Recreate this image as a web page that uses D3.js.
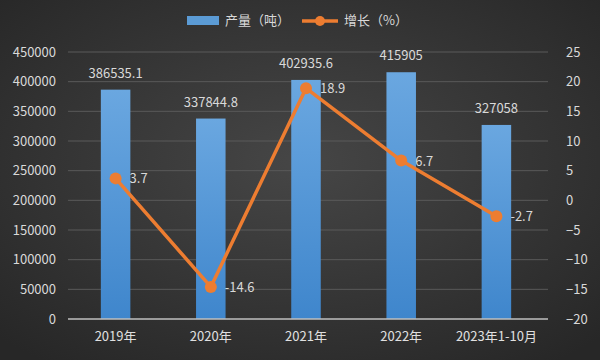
<!DOCTYPE html>
<html><head><meta charset="utf-8">
<script src="https://cdn.jsdelivr.net/npm/d3@7"></script>
<style>html,body{margin:0;padding:0;background:#fff}svg{display:block}</style>
</head><body><svg id="c" width="600" height="360"></svg>
<script>
const categories = ["2019年","2020年","2021年","2022年","2023年1-10月"];
const production = [386535.1, 337844.8, 402935.6, 415905, 327058];
const growth = [3.7, -14.6, 18.9, 6.7, -2.7];
const prodLabels = ["386535.1","337844.8","402935.6","415905","327058"];
const leftTicks = [0,50000,100000,150000,200000,250000,300000,350000,400000,450000];
const rightTicks = [-20,-15,-10,-5,0,5,10,15,20,25];

const svg = d3.select("#c");
const W=600,H=360;
const defs = svg.append("defs");
const bg = defs.append("radialGradient").attr("id","bg").attr("cx","50%").attr("cy","45%").attr("r","70%");
bg.append("stop").attr("offset","0%").attr("stop-color","#464646");
bg.append("stop").attr("offset","100%").attr("stop-color","#272727");
const bar = defs.append("linearGradient").attr("id","bar").attr("x1",0).attr("y1",0).attr("x2",0).attr("y2",1);
bar.append("stop").attr("offset","0%").attr("stop-color","#6aa7e0");
bar.append("stop").attr("offset","100%").attr("stop-color","#3f86cc");

svg.append("rect").attr("width",W).attr("height",H).attr("fill","url(#bg)");

const font = "'Microsoft YaHei','Noto Sans CJK SC','DejaVu Sans',sans-serif";
const x0=68,x1=544,yTop=52,yBot=319;
const x = d3.scaleBand().domain(categories).range([x0,x1]).paddingInner(0.69).paddingOuter(0.345);
const yL = d3.scaleLinear().domain([0,450000]).range([yBot,yTop]);
const yR = d3.scaleLinear().domain([-20,25]).range([yBot,yTop]);

// grid
svg.append("g").selectAll("line").data(leftTicks.slice(1)).join("line")
  .attr("x1",x0).attr("x2",x1+4).attr("y1",d=>yL(d)).attr("y2",d=>yL(d))
  .attr("stroke","#5a5a5a").attr("stroke-width",1);

// left axis
const la = svg.append("g").attr("transform",`translate(${x0},0)`)
  .call(d3.axisLeft(yL).tickValues(leftTicks).tickSize(0).tickPadding(12).tickFormat(d3.format("d")));
la.select(".domain").remove();
la.selectAll("text").attr("fill","#d9d9d9").style("font-family",font).style("font-size","13px");

// right axis
const ra = svg.append("g").attr("transform",`translate(${x1+10},0)`)
  .call(d3.axisRight(yR).tickValues(rightTicks).tickSize(0).tickPadding(12).tickFormat(d3.format("d")));
ra.select(".domain").remove();
ra.selectAll("text").attr("fill","#d9d9d9").style("font-family",font).style("font-size","13px");

// bars
svg.append("g").selectAll("rect").data(production).join("rect")
  .attr("x",(d,i)=>x(categories[i])).attr("width",x.bandwidth())
  .attr("y",d=>yL(d)).attr("height",d=>yBot-yL(d)).attr("fill","url(#bar)");

// baseline
svg.append("line").attr("x1",x0).attr("x2",x1+4).attr("y1",yBot).attr("y2",yBot).attr("stroke","#bfbfbf").attr("stroke-width",1.5);

// x labels
svg.append("g").selectAll("text").data(categories).join("text")
  .attr("x",d=>x(d)+x.bandwidth()/2).attr("y",yBot+22).attr("text-anchor","middle")
  .attr("fill","#e0e0e0").style("font-family",font).style("font-size","13px").text(d=>d);

// bar labels
svg.append("g").selectAll("text").data(production).join("text")
  .attr("x",(d,i)=>x(categories[i])+x.bandwidth()/2).attr("y",d=>yL(d)-12).attr("text-anchor","middle")
  .attr("fill","#d9d9d9").style("font-family",font).style("font-size","13px").text((d,i)=>prodLabels[i]);

// line
const cx = (i)=>x(categories[i])+x.bandwidth()/2;
svg.append("path").datum(growth).attr("fill","none").attr("stroke","#ed7d31").attr("stroke-width",3.5)
  .attr("stroke-linejoin","round")
  .attr("d",d3.line().x((d,i)=>cx(i)).y(d=>yR(d)));
svg.append("g").selectAll("circle").data(growth).join("circle")
  .attr("cx",(d,i)=>cx(i)).attr("cy",d=>yR(d)).attr("r",6).attr("fill","#ed7d31");
svg.append("g").selectAll("text").data(growth).join("text")
  .attr("x",(d,i)=>cx(i)+14).attr("y",d=>yR(d)+5)
  .attr("fill","#d9d9d9").style("font-family",font).style("font-size","13px").text(d=>d);

// legend
const lg = svg.append("g");
lg.append("rect").attr("x",187).attr("y",16).attr("width",32).attr("height",9).attr("fill","#5b9bd5");
lg.append("text").attr("x",225).attr("y",25).attr("fill","#d9d9d9").style("font-family",font).style("font-size","13px").text("产量（吨）");
lg.append("line").attr("x1",302).attr("x2",338).attr("y1",21).attr("y2",21).attr("stroke","#ed7d31").attr("stroke-width",3.5);
lg.append("circle").attr("cx",320).attr("cy",21).attr("r",5).attr("fill","#ed7d31");
lg.append("text").attr("x",344).attr("y",25).attr("fill","#d9d9d9").style("font-family",font).style("font-size","13px").text("增长（%）");
</script></body></html>
